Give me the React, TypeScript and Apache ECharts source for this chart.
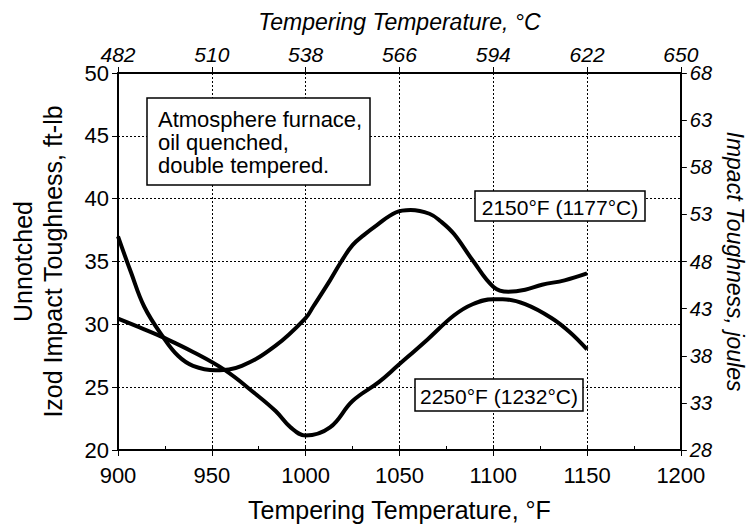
import React, { useEffect, useRef } from "react";
import * as echarts from "echarts";

const fahrenheitMin = 900;
const fahrenheitMax = 1200;
const celsiusLabels = ["482", "510", "538", "566", "594", "622", "650"];

const series2150X = [900, 907, 914, 924, 932, 940, 952, 966, 984, 1000, 1004, 1013, 1019, 1025, 1031, 1038, 1048, 1056, 1066, 1072, 1079, 1089, 1100, 1108, 1117, 1126, 1138, 1150];
const series2150Y = [37.0, 34.1, 31.4, 29.0, 27.5, 26.7, 26.35, 26.7, 28.3, 30.5, 31.4, 33.5, 35.0, 36.3, 37.1, 37.9, 38.9, 39.1, 38.8, 38.2, 37.2, 35.1, 33.0, 32.6, 32.75, 33.15, 33.5, 34.05];

const series2250X = [900, 914, 924, 940, 957, 973, 984, 992, 1000, 1013, 1025, 1039, 1049, 1065, 1079, 1089, 1100, 1105, 1117, 1131, 1141, 1150];
const series2250Y = [30.45, 29.6, 28.96, 27.8, 26.35, 24.5, 23.1, 21.8, 21.15, 21.8, 23.9, 25.4, 26.7, 28.8, 30.7, 31.6, 32.0, 32.0, 31.6, 30.5, 29.35, 28.0];

const FONT = "Arial, 'Liberation Sans', sans-serif";

export default function App() {
  const ref = useRef<HTMLDivElement>(null);
  useEffect(() => {
    document.body.style.margin = "0";
    if (!ref.current) return;
    const chart = echarts.init(ref.current, null, { renderer: "svg" });
    const black = "#000";
    const gridLine = { show: true, lineStyle: { color: black, type: [2, 2], width: 1 } };
    const option: any = {
      animation: false,
      backgroundColor: "#fff",
      textStyle: { fontFamily: FONT, color: black },
      grid: { left: 116, right: 61, top: 73, bottom: 71 },
      xAxis: [
        {
          type: "value",
          position: "bottom",
          min: fahrenheitMin,
          max: fahrenheitMax,
          interval: 50,
          axisLine: { show: true, lineStyle: { color: black, width: 2 } },
          axisTick: { show: true, length: 6, lineStyle: { color: black } },
          axisLabel: { fontSize: 22, color: black, fontFamily: FONT, margin: 14, formatter: (v: number) => String(v) },
          splitLine: gridLine,
          name: "Tempering Temperature, °F",
          nameLocation: "middle",
          nameGap: 47,
          nameTextStyle: { fontSize: 25, color: black, fontFamily: FONT },
        },
        {
          type: "value",
          position: "top",
          min: fahrenheitMin,
          max: fahrenheitMax,
          interval: 50,
          axisLine: { show: true, lineStyle: { color: black, width: 2 } },
          axisTick: { show: true, length: 6, lineStyle: { color: black } },
          axisLabel: {
            fontSize: 21,
            fontStyle: "italic",
            color: black,
            fontFamily: FONT,
            margin: 8,
            formatter: (v: number) => celsiusLabels[Math.round((v - fahrenheitMin) / 50)] ?? "",
          },
          splitLine: { show: false },
          name: "Tempering Temperature, °C",
          nameLocation: "middle",
          nameGap: 40,
          nameTextStyle: { fontSize: 23, fontStyle: "italic", color: black, fontFamily: FONT },
        },
        {
          type: "value",
          position: "bottom",
          min: fahrenheitMin,
          max: fahrenheitMax,
          interval: 25,
          axisLine: { show: false },
          axisTick: { show: true, inside: true, length: 4, lineStyle: { color: black } },
          axisLabel: { show: false },
          splitLine: { show: false },
        },
      ],
      yAxis: [
        {
          type: "value",
          position: "left",
          min: 20,
          max: 50,
          interval: 5,
          axisLine: { show: true, lineStyle: { color: black, width: 2 } },
          axisTick: { show: true, length: 6, lineStyle: { color: black } },
          axisLabel: { fontSize: 22, color: black, fontFamily: FONT, margin: 9 },
          splitLine: gridLine,
          name: "Unnotched\nIzod Impact Toughness, ft-lb",
          nameLocation: "middle",
          nameGap: 50,
          nameRotate: 90,
          nameTextStyle: { fontSize: 25, color: black, fontFamily: FONT, lineHeight: 30 },
        },
        {
          type: "value",
          position: "right",
          min: 28,
          max: 68,
          interval: 5,
          axisLine: { show: true, lineStyle: { color: black, width: 2 } },
          axisTick: { show: true, length: 6, lineStyle: { color: black } },
          axisLabel: { fontSize: 20, fontStyle: "italic", color: black, fontFamily: FONT, margin: 9 },
          splitLine: { show: false },
          name: "Impact Toughness, joules",
          nameLocation: "middle",
          nameGap: 36,
          nameRotate: -90,
          nameTextStyle: { fontSize: 23, fontStyle: "italic", color: black, fontFamily: FONT },
        },
      ],
      series: [
        {
          name: "2150°F (1177°C)",
          type: "line",
          xAxisIndex: 0,
          yAxisIndex: 0,
          data: series2150X.map((x, i) => [x, series2150Y[i]]),
          showSymbol: false,
          smooth: 0.4,
          lineStyle: { color: black, width: 4 },
          z: 5,
        },
        {
          name: "2250°F (1232°C)",
          type: "line",
          xAxisIndex: 0,
          yAxisIndex: 0,
          data: series2250X.map((x, i) => [x, series2250Y[i]]),
          showSymbol: false,
          smooth: 0.4,
          lineStyle: { color: black, width: 4 },
          z: 5,
        },
      ],
      graphic: [
        {
          type: "rect",
          shape: { x: 147, y: 98, width: 223, height: 87 },
          style: { fill: "#fff", stroke: black, lineWidth: 1.5 },
          z: 10,
        },
        {
          type: "text",
          x: 158,
          y: 108,
          style: {
            text: "Atmosphere furnace,\noil quenched,\ndouble tempered.",
            font: `22px ${FONT}`,
            lineHeight: 23,
            fill: black,
          },
          z: 11,
        },
        {
          type: "rect",
          shape: { x: 475, y: 191, width: 170, height: 30 },
          style: { fill: "#fff", stroke: black, lineWidth: 1.5 },
          z: 10,
        },
        {
          type: "text",
          x: 560,
          y: 207,
          style: { text: "2150°F (1177°C)", font: `21px ${FONT}`, fill: black, align: "center", verticalAlign: "middle" },
          z: 11,
        },
        {
          type: "rect",
          shape: { x: 415, y: 379, width: 168, height: 32 },
          style: { fill: "#fff", stroke: black, lineWidth: 1.5 },
          z: 10,
        },
        {
          type: "text",
          x: 499,
          y: 396,
          style: { text: "2250°F (1232°C)", font: `21px ${FONT}`, fill: black, align: "center", verticalAlign: "middle" },
          z: 11,
        },
      ],
    };
    chart.setOption(option);
    return () => chart.dispose();
  }, []);
  return <div ref={ref} style={{ width: 754, height: 527 }} />;
}
